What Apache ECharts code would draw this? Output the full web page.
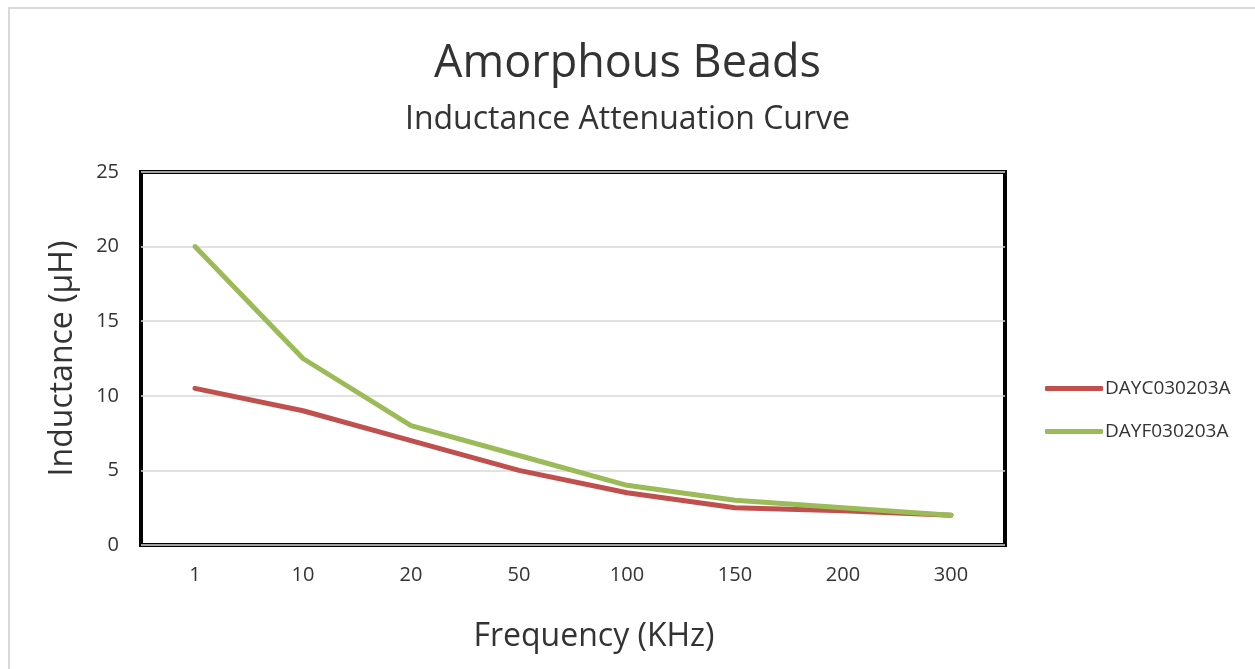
<!DOCTYPE html>
<html>
<head>
<meta charset="utf-8">
<script src="https://cdn.jsdelivr.net/npm/echarts@6/dist/echarts.min.js"></script>
<style>
html, body { margin: 0; padding: 0; background: #fff; }
#frame { position: absolute; left: 8px; top: 7px; width: 1260px; height: 680px; border: 2px solid #d9d9d9; box-sizing: border-box; }
#chart { width: 1255px; height: 669px; position: absolute; left: 0; top: 0; }
</style>
</head>
<body>
<div id="frame"></div>
<div id="chart"></div>
<script>
var categories = ['1', '10', '20', '50', '100', '150', '200', '300'];
var dayc = [10.5, 9, 7, 5, 3.5, 2.5, 2.3, 2];
var dayf = [20, 12.5, 8, 6, 4, 3, 2.5, 2];
var seriesNames = ['DAYC030203A', 'DAYF030203A'];

var font = '"Open Sans", "Noto Sans", sans-serif';
var chart = echarts.init(document.getElementById('chart'));

var option = {
    animation: false,
    textStyle: { fontFamily: font },
    title: [
        { text: 'Amorphous Beads', left: 'center', top: 37,
          textStyle: { fontFamily: font, fontSize: 45, fontWeight: 'normal', color: '#333' } },
        { text: 'Inductance Attenuation Curve', left: 'center', top: 99,
          textStyle: { fontFamily: font, fontSize: 32, fontWeight: 'normal', color: '#333' } }
    ],
    legend: {
        orient: 'vertical', left: 1040, top: 374, itemGap: 24,
        itemWidth: 58, itemHeight: 5,
        icon: 'roundRect',
        textStyle: { fontFamily: font, fontSize: 19, color: '#333', padding: [0, 0, 0, -3] },
        data: seriesNames
    },
    grid: {
        left: 141, top: 172, right: 250, bottom: 124,
        show: true, borderColor: '#000', borderWidth: 4
    },
    xAxis: {
        type: 'category', data: categories, boundaryGap: true,
        name: 'Frequency (KHz)', nameLocation: 'middle', nameGap: 76,
        nameTextStyle: { fontFamily: font, fontSize: 32, color: '#333', padding: [0, 0, 0, 42] },
        axisLine: { show: false },
        axisTick: { show: false },
        axisLabel: { fontFamily: font, fontSize: 20, color: '#333', margin: 20 }
    },
    yAxis: {
        type: 'value', min: 0, max: 25, interval: 5,
        name: 'Inductance (μH)', nameLocation: 'middle', nameGap: 62,
        nameTextStyle: { fontFamily: font, fontSize: 32, color: '#333' },
        axisLine: { show: false },
        axisTick: { show: false },
        axisLabel: { fontFamily: font, fontSize: 20, color: '#333', margin: 22 },
        splitLine: { lineStyle: { color: '#d9d9d9', width: 1.5 } }
    },
    series: [
        { name: seriesNames[0], type: 'line', data: dayc, symbol: 'none',
          lineStyle: { color: '#C0504D', width: 5, cap: 'round', join: 'round' },
          itemStyle: { color: '#C0504D' } },
        { name: seriesNames[1], type: 'line', data: dayf, symbol: 'none',
          lineStyle: { color: '#9BBB59', width: 5, cap: 'round', join: 'round' },
          itemStyle: { color: '#9BBB59' } }
    ]
};
chart.setOption(option);
</script>
</body>
</html>
